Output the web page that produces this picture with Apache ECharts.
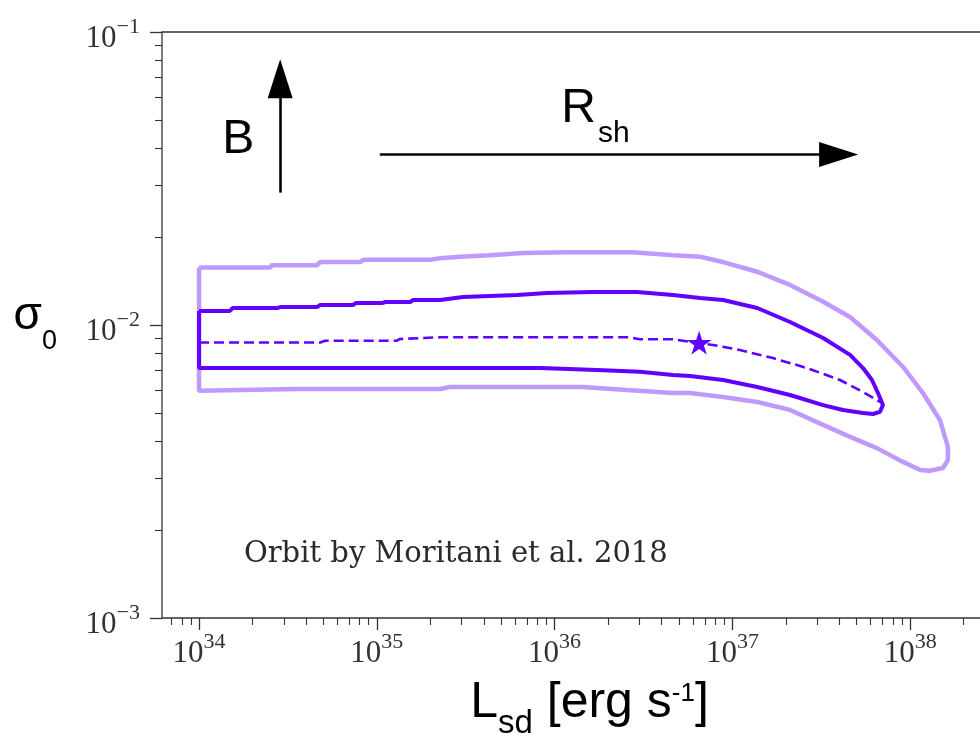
<!DOCTYPE html>
<html>
<head>
<meta charset="utf-8">
<script src="https://cdn.jsdelivr.net/npm/echarts@6/dist/echarts.min.js"></script>
<style>
  html, body { margin: 0; background: #fff; }
  #chart { width: 980px; height: 743px; }
</style>
</head>
<body>
<div id="chart"></div>
<script>
// spin-down luminosity [erg/s] and magnetisation
const OUTER_L = [1.0e34, 2.51e34, 2.57e34, 4.61e34, 4.8e34, 8.05e34, 8.4e34, 1.99e35, 2.27e35, 2.94e35,
  4.33e35, 6.64e35, 1.17e36, 2.76e36, 4.63e36, 6.58e36, 8.86e36, 1.38e37, 2.11e37, 3.24e37,
  4.59e37, 6.5e37, 9.12e37, 1.18e38, 1.47e38, 1.63e38, 1.63e38, 1.53e38, 1.29e38, 1.14e38,
  9.12e37, 6.5e37, 4.59e37, 3.24e37, 2.11e37, 1.38e37, 8.86e36, 5.78e36, 4.63e36, 2.55e36,
  1.44e36, 2.58e35, 2.27e35, 3.56e34, 3.56e34, 1.0e34, 1.0e34]
const OUTER_SIGMA = [0.0157, 0.0157, 0.0160, 0.0160, 0.0164, 0.0164, 0.0167, 0.0167, 0.0169, 0.0171,
  0.0173, 0.0176, 0.0177, 0.0177, 0.0173, 0.0171, 0.0164, 0.0152, 0.0137, 0.0120,
  0.01065, 0.00889, 0.00719, 0.00586, 0.00474, 0.00384, 0.00346, 0.00325, 0.00318, 0.00320,
  0.00341, 0.00380, 0.00415, 0.00456, 0.00513, 0.00546, 0.00568, 0.00586, 0.00586, 0.00600,
  0.00614, 0.00614, 0.00605, 0.00605, 0.00596, 0.00596, 0.0157]

const INNER_L = [1e34, 1.49e34, 1.55e34, 2.75e34, 2.86e34, 4.61e34, 4.8e34, 7.35e34, 7.64e34, 1.08e35,
  1.12e35, 1.54e35, 1.6e35, 2.27e35, 3.05e35, 6.15e35, 9.06e35, 1.64e36, 2.91e36, 4.63e36,
  6.58e36, 8.86e36, 1.38e37, 2.11e37, 3.24e37, 4.59e37, 5.43e37, 6.1e37, 6.59e37, 7.03e37,
  6.76e37, 6.18e37, 5.43e37, 4.19e37, 3.24e37, 2.11e37, 1.38e37, 8.86e36, 5.78e36, 4.63e36,
  3.02e36, 1.73e36, 8.28e35, 1e34, 1e34]
const INNER_SIGMA = [0.01117, 0.01117, 0.01143, 0.01143, 0.01151, 0.01151, 0.0117, 0.0117, 0.01189, 0.01189,
  0.01198, 0.01198, 0.01217, 0.01217, 0.01247, 0.01265, 0.01286, 0.01297, 0.01297, 0.01265,
  0.01236, 0.01217, 0.01143, 0.01024, 0.00903, 0.00791, 0.00713, 0.00649, 0.00586, 0.00533,
  0.00505, 0.00497, 0.00501, 0.00513, 0.00533, 0.00577, 0.00614, 0.00649, 0.0067, 0.00675,
  0.00692, 0.00702, 0.00713, 0.00713, 0.01117]

const MEDIAN_L = [1e34, 4.8e34, 5.12e34, 1.3e35, 1.35e35, 2.27e35, 2.65e36, 3.02e36, 4.63e36, 6.41e36,
  7.78e36, 1.1e37, 1.69e37, 2.63e37, 4.03e37, 5.43e37, 6.94e37]
const MEDIAN_SIGMA = [0.00871, 0.00871, 0.00884, 0.00884, 0.00896, 0.00908, 0.00908, 0.00894, 0.00894, 0.00868,
  0.00855, 0.00822, 0.00771, 0.00713, 0.00649, 0.00591, 0.00542]

const STAR = [6.5e36, 0.0087]

const X_MAJOR = [1e34, 1e35, 1e36, 1e37, 1e38]
const X_MINOR = [7e33, 8e33, 9e33,
  2e34, 3e34, 4e34, 5e34, 6e34, 7e34, 8e34, 9e34,
  2e35, 3e35, 4e35, 5e35, 6e35, 7e35, 8e35, 9e35,
  2e36, 3e36, 4e36, 5e36, 6e36, 7e36, 8e36, 9e36,
  2e37, 3e37, 4e37, 5e37, 6e37, 7e37, 8e37, 9e37,
  2e38, 3e38]
const Y_MAJOR = [1e-3, 1e-2, 1e-1]
const Y_MINOR = [2e-3, 3e-3, 4e-3, 5e-3, 6e-3, 7e-3, 8e-3, 9e-3,
  2e-2, 3e-2, 4e-2, 5e-2, 6e-2, 7e-2, 8e-2, 9e-2]

// annotations: arrows and free text
const ARROW_B = [[2.86e34, 0.0283], [2.86e34, 0.0692]]
const ARROW_R = [[1.04e35, 0.0382], [3.96e37, 0.0382]]
const NOTE_B = [1.66e34, 0.0428]
const NOTE_R = [1.09e36, 0.0662]
const NOTE_ORBIT = [1.79e34, 0.001845]
const ORBIT_TEXT = 'Orbit by Moritani et al. 2018'

const PURPLE = '#6200ff'
const AXIS = '#333'
const SANS = 'Liberation Sans, Arial, sans-serif'
const SERIF = 'Liberation Serif, Times New Roman, serif'

const zip = (xs, ys) => xs.map((x, i) => [x, ys[i]])

const powLabel = (v) => {
  const e = Math.round(Math.log10(v))
  return '{b|10}{s|' + (e < 0 ? '\u2212' + (-e) : e) + '}'
}
const powRich = {
  b: { fontFamily: SERIF, fontSize: 31, lineHeight: 31, padding: [7, 0, 0, 0], verticalAlign: 'top', color: AXIS },
  s: { fontFamily: SERIF, fontSize: 22, lineHeight: 22, verticalAlign: 'top', color: AXIS }
}

const chart = echarts.init(document.getElementById('chart'))

const logX = {
  type: 'log', logBase: 10, min: 6.19e33, max: 3.16e38,
  axisLine: { show: false }, splitLine: { show: false }
}
const logY = {
  type: 'log', logBase: 10, min: 1e-3, max: 1e-1,
  axisLine: { show: false }, splitLine: { show: false }
}

chart.setOption({
  animation: false,
  backgroundColor: '#fff',
  grid: {
    left: 162, top: 32, width: 837, height: 586,
    outerBoundsMode: 'none', containLabel: false,
    show: true, borderColor: AXIS, borderWidth: 1.3
  },
  xAxis: [
    {
      ...logX, position: 'bottom',
      axisTick: { customValues: X_MAJOR, length: 12, lineStyle: { color: AXIS, width: 1.3 } },
      axisLabel: { customValues: X_MAJOR, formatter: powLabel, rich: powRich, margin: 13 },
      name: '{l|L}{b|sd}{a| [erg s}{c|-1}{a|]}',
      nameLocation: 'middle',
      nameGap: 60,
      nameTextStyle: {
        rich: {
          l: { fontFamily: SANS, fontSize: 50, lineHeight: 50, padding: [0, 0, 0, 18], verticalAlign: 'top', color: '#000' },
          a: { fontFamily: SANS, fontSize: 50, lineHeight: 50, verticalAlign: 'top', color: '#000' },
          b: { fontFamily: SANS, fontSize: 33, lineHeight: 33, padding: [29, 0, 0, 0], verticalAlign: 'top', color: '#000' },
          c: { fontFamily: SANS, fontSize: 26, lineHeight: 26, padding: [3, 0, 0, 0], verticalAlign: 'top', color: '#000' }
        }
      }
    },
    {
      ...logX, position: 'bottom',
      axisTick: { customValues: X_MINOR, length: 7, lineStyle: { color: AXIS, width: 1.1 } },
      axisLabel: { show: false }
    }
  ],
  yAxis: [
    {
      ...logY, position: 'left',
      axisTick: { customValues: Y_MAJOR, length: 12, lineStyle: { color: AXIS, width: 1.3 } },
      axisLabel: { customValues: Y_MAJOR, formatter: powLabel, rich: powRich, margin: 22 },
      name: '{a|\u03c3}{b|0}',
      nameLocation: 'middle',
      nameRotate: 0,
      nameGap: 105,
      nameTextStyle: {
        padding: [0, 0, 18, 0],
        rich: {
          a: { fontFamily: SANS, fontSize: 46, lineHeight: 46, verticalAlign: 'top', color: '#000' },
          b: { fontFamily: SANS, fontSize: 27, lineHeight: 27, padding: [35, 0, 0, 0], verticalAlign: 'top', color: '#000' }
        }
      }
    },
    {
      ...logY, position: 'left',
      axisTick: { customValues: Y_MINOR, length: 7, lineStyle: { color: AXIS, width: 1.1 } },
      axisLabel: { show: false }
    }
  ],
  series: [
    {
      name: 'outer', type: 'line', data: zip(OUTER_L, OUTER_SIGMA),
      showSymbol: false, symbol: 'none',
      lineStyle: { color: PURPLE, width: 4.5, opacity: 0.4 }
    },
    {
      name: 'inner', type: 'line', data: zip(INNER_L, INNER_SIGMA),
      showSymbol: false, symbol: 'none',
      lineStyle: { color: PURPLE, width: 4 }
    },
    {
      name: 'median', type: 'line', data: zip(MEDIAN_L, MEDIAN_SIGMA),
      showSymbol: false, symbol: 'none',
      lineStyle: { color: PURPLE, width: 2.6, type: [10, 5] }
    },
    {
      name: 'star', type: 'scatter', data: [STAR],
      symbol: 'path://M50 0 L61.23 34.55 L97.55 34.55 L68.17 55.9 L79.39 90.45 L50 69.1 L20.61 90.45 L31.83 55.9 L2.45 34.55 L38.77 34.55 Z',
      symbolSize: 25, symbolKeepAspect: true,
      itemStyle: { color: PURPLE, opacity: 1 }
    },
    {
      name: 'arrows', type: 'line', data: [],
      markLine: {
        silent: true, animation: false,
        label: { show: false },
        lineStyle: { color: '#000', width: 2.6, type: 'solid' },
        data: [ARROW_B, ARROW_R].map(([a, b]) => [
          { coord: a, symbol: 'none' },
          { coord: b, symbol: 'triangle', symbolSize: [25, 39] }
        ])
      }
    },
    {
      name: 'notes', type: 'scatter', symbolSize: 0, silent: true,
      itemStyle: { opacity: 1 },
      data: [
        {
          value: NOTE_B,
          label: { show: true, position: [0, 0], align: 'center', verticalAlign: 'middle',
            formatter: 'B', fontFamily: SANS, fontSize: 48, color: '#000' }
        },
        {
          value: NOTE_R,
          label: { show: true, position: [0, 0], align: 'left', verticalAlign: 'top',
            formatter: '{r|R}{s|sh}',
            rich: {
              r: { fontFamily: SANS, fontSize: 48, lineHeight: 48, verticalAlign: 'top', color: '#000' },
              s: { fontFamily: SANS, fontSize: 30, lineHeight: 30, padding: [34, 0, 0, 2], verticalAlign: 'top', color: '#000' }
            } }
        },
        {
          value: NOTE_ORBIT,
          label: { show: true, position: [0, 0], align: 'left', verticalAlign: 'top',
            formatter: ORBIT_TEXT, fontFamily: 'DejaVu Serif, serif', fontSize: 29, color: '#2a2a2a' }
        }
      ]
    }
  ]
})
</script>
</body>
</html>
